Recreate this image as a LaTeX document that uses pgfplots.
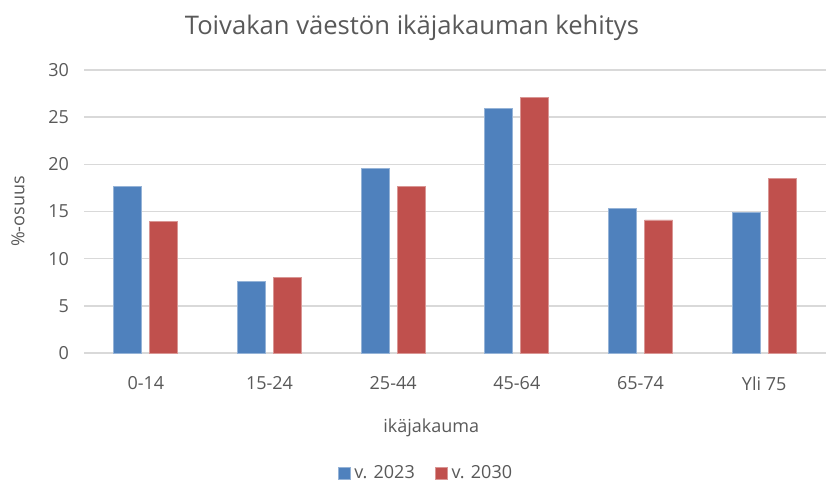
\documentclass[border=0pt]{standalone}
\usepackage{pgfplots}
\pgfplotsset{compat=1.18}
\usepackage{fontspec}
\setmainfont{Open Sans}
\definecolor{txt}{HTML}{595959}
\definecolor{gridc}{HTML}{D9D9D9}
\definecolor{cblue}{HTML}{4F81BD}
\definecolor{cred}{HTML}{C0504D}
\begin{document}
\begin{tikzpicture}
\useasboundingbox (-42pt,-67pt) rectangle (372.5pt,176.5pt);
\begin{axis}[
  at={(0pt,0pt)}, anchor=south west,
  scale only axis,
  width=371pt, height=141.5pt,
  ybar=4pt, bar width=14pt,
  xmin=-0.5, xmax=5.5, ymin=0, ymax=30,
  ytick={0,5,...,30},
  xtick=data,
  xticklabels={0-14,15-24,25-44,45-64,65-74,Yli 75},
  axis line style={draw=none},
  axis x line*=bottom,
  x axis line style={draw=gridc, line width=0.8pt},
  tick style={draw=none},
  ymajorgrids, grid style={gridc, line width=0.8pt},
  tick label style={font=\fontsize{9}{10}\selectfont, text=txt},
  /pgf/number format/assume math mode=true,
  yticklabel style={xshift=-4pt},
  xticklabel style={yshift=-4pt},
  title={Toivakan väestön ikäjakauman kehitys},
  title style={font=\fontsize{12.8}{14}\selectfont, text=txt, at={(rel axis cs:0.442,1.107)}, anchor=center},
  ylabel={\%-osuus},
  ylabel style={font=\fontsize{9}{10}\selectfont, text=txt, at={(rel axis cs:-0.089,0.5)}, anchor=center},
  xlabel={ikäjakauma},
  xlabel style={font=\fontsize{9}{10}\selectfont, text=txt, at={(rel axis cs:0.468,-0.265)}, anchor=center},
  legend style={at={(rel axis cs:0.462,-0.424)}, anchor=center, draw=none, font=\fontsize{9}{10}\selectfont, text=txt, legend columns=2, /tikz/every even column/.append style={column sep=8pt}},
  legend image code/.code={\fill[#1] (0pt,-3pt) rectangle (6pt,3pt);},
]
\addplot[fill=cblue, draw=cblue!60!white, line width=0.4pt] coordinates {(0,17.7) (1,7.6) (2,19.6) (3,25.9) (4,15.3) (5,14.9)};
\addplot[fill=cred, draw=cred!60!white, line width=0.4pt] coordinates {(0,13.9) (1,8.0) (2,17.7) (3,27.1) (4,14.1) (5,18.5)};
\legend{v. 2023, v. 2030}
\end{axis}
\end{tikzpicture}
\end{document}
